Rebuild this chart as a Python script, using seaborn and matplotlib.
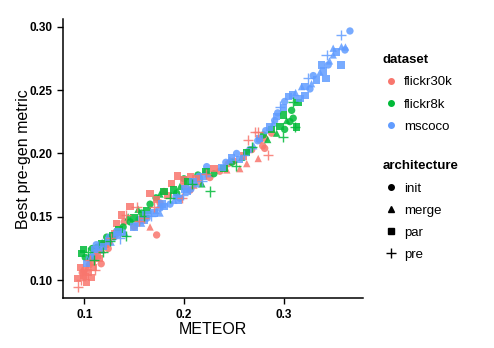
import numpy as np
import pandas as pd
import seaborn as sns
import matplotlib.pyplot as plt
from matplotlib.lines import Line2D

# flickr30k
f30k_meteor = [0.094, 0.093, 0.097, 0.099, 0.100, 0.101, 0.103, 0.104, 0.105, 0.107,
               0.106, 0.108, 0.110, 0.111, 0.113, 0.117, 0.118, 0.121, 0.124, 0.127,
               0.131, 0.1325, 0.1375, 0.142, 0.146, 0.1525, 0.150, 0.155, 0.166, 0.1726,
               0.166, 0.1726, 0.176, 0.170, 0.184, 0.1877, 0.1933, 0.1993, 0.2067, 0.206,
               0.198, 0.210, 0.215, 0.222, 0.226, 0.230, 0.236, 0.2445, 0.243, 0.256,
               0.2745, 0.263, 0.2846, 0.260, 0.268, 0.276, 0.2745, 0.2645, 0.281, 0.281,
               0.271, 0.288,
               0.098, 0.102, 0.109, 0.115, 0.096, 0.140, 0.160, 0.180, 0.200, 0.212,
               0.250, 0.279]
f30k_metric = [0.095, 0.1016, 0.100, 0.104, 0.108, 0.103, 0.110, 0.106, 0.112, 0.102,
               0.116, 0.114, 0.118, 0.108, 0.120, 0.113, 0.124, 0.128, 0.125, 0.133,
               0.137, 0.145, 0.1515, 0.1515, 0.158, 0.158, 0.142, 0.147, 0.142, 0.1357,
               0.1686, 0.1639, 0.161, 0.158, 0.167, 0.1765, 0.1822, 0.179, 0.1817, 0.171,
               0.165, 0.175, 0.178, 0.184, 0.181, 0.188, 0.186, 0.192, 0.187, 0.188,
               0.196, 0.192, 0.1988, 0.198, 0.203, 0.2106, 0.217, 0.2106, 0.212, 0.204,
               0.217, 0.216,
               0.106, 0.098, 0.110, 0.117, 0.110, 0.146, 0.149, 0.170, 0.174, 0.180,
               0.194, 0.206]
f30k_arch = ['pre', 'par', 'pre', 'par', 'init', 'par', 'merge', 'par', 'init', 'par',
             'pre', 'par', 'init', 'pre', 'par', 'init', 'merge', 'par', 'init', 'pre',
             'par', 'par', 'par', 'pre', 'par', 'pre', 'init', 'pre', 'merge', 'init',
             'par', 'par', 'init', 'pre', 'par', 'par', 'par', 'par', 'par', 'init',
             'pre', 'merge', 'init', 'pre', 'init', 'par', 'init', 'init', 'merge', 'merge',
             'merge', 'merge', 'pre', 'par', 'init', 'init', 'pre', 'pre', 'init', 'init',
             'pre', 'init',
             'init', 'par', 'par', 'par', 'par', 'init', 'pre', 'init', 'init', 'par',
             'init', 'init']

# flickr8k
f8k_meteor = [0.097, 0.099, 0.101, 0.104, 0.106, 0.110, 0.113, 0.117, 0.1225, 0.126,
              0.130, 0.135, 0.139, 0.142, 0.146, 0.150, 0.1575, 0.154, 0.160, 0.163,
              0.172, 0.176, 0.1893, 0.1927, 0.186, 0.196, 0.204, 0.214, 0.218, 0.226,
              0.222, 0.230, 0.240, 0.248, 0.252, 0.258, 0.263, 0.268, 0.2796, 0.284,
              0.293, 0.2996, 0.2963, 0.2996, 0.3063, 0.3113, 0.3096, 0.308, 0.3144, 0.3096,
              0.303, 0.313,
              0.108, 0.119, 0.128, 0.144, 0.166, 0.180, 0.200, 0.208, 0.288, 0.301]
f8k_metric = [0.121, 0.124, 0.118, 0.122, 0.119, 0.116, 0.126, 0.129, 0.134, 0.131,
              0.138, 0.140, 0.142, 0.135, 0.146, 0.149, 0.153, 0.156, 0.151, 0.155,
              0.165, 0.168, 0.1712, 0.1686, 0.165, 0.174, 0.178, 0.183, 0.176, 0.170,
              0.186, 0.184, 0.188, 0.193, 0.190, 0.197, 0.201, 0.205, 0.2146, 0.211,
              0.216, 0.213, 0.2211, 0.2303, 0.2251, 0.2211, 0.2278, 0.234, 0.240, 0.2408,
              0.226, 0.221,
              0.125, 0.122, 0.135, 0.150, 0.160, 0.170, 0.180, 0.176, 0.219, 0.219]
f8k_arch = ['par', 'par', 'init', 'pre', 'merge', 'pre', 'init', 'par', 'init', 'pre',
            'merge', 'par', 'init', 'pre', 'init', 'par', 'init', 'merge', 'pre', 'par',
            'init', 'merge', 'par', 'init', 'pre', 'merge', 'par', 'init', 'merge', 'pre',
            'par', 'init', 'par', 'init', 'pre', 'merge', 'par', 'pre', 'init', 'merge',
            'merge', 'pre', 'par', 'par', 'init', 'pre', 'init', 'init', 'par', 'pre',
            'merge', 'par',
            'init', 'pre', 'par', 'merge', 'init', 'par', 'init', 'pre', 'par', 'init']

# mscoco
coco_meteor = [0.102, 0.105, 0.108, 0.110, 0.1125, 0.114, 0.116, 0.119, 0.121, 0.124,
               0.127, 0.130, 0.133, 0.136, 0.138, 0.141, 0.150, 0.153, 0.1575, 0.160,
               0.163, 0.167, 0.170, 0.1759, 0.176, 0.180, 0.186, 0.190, 0.1943, 0.196,
               0.199, 0.203, 0.207, 0.2125, 0.2193, 0.2228, 0.218, 0.224, 0.238, 0.242,
               0.246, 0.2528, 0.256, 0.260, 0.266, 0.270, 0.276, 0.282, 0.2896, 0.293,
               0.294, 0.296, 0.301, 0.305, 0.3163, 0.3214, 0.318, 0.3214, 0.3264, 0.3247,
               0.333, 0.3297, 0.3364, 0.3424, 0.338, 0.3447, 0.3575, 0.343, 0.3497, 0.3497,
               0.358, 0.3615, 0.3575, 0.3665, 0.312, 0.300,
               0.107, 0.112, 0.118, 0.125, 0.134, 0.155, 0.162, 0.172, 0.178, 0.192,
               0.201, 0.209, 0.215, 0.221, 0.248, 0.262, 0.274, 0.286, 0.291, 0.309,
               0.328, 0.340, 0.346, 0.353, 0.362]
coco_metric = [0.113, 0.117, 0.121, 0.124, 0.1225, 0.127, 0.124, 0.1265, 0.129, 0.131,
               0.130, 0.134, 0.136, 0.133, 0.138, 0.137, 0.142, 0.145, 0.145, 0.147,
               0.149, 0.151, 0.153, 0.1568, 0.153, 0.158, 0.160, 0.163, 0.1633, 0.1647,
               0.167, 0.170, 0.172, 0.176, 0.1817, 0.1896, 0.178, 0.184, 0.189, 0.193,
               0.195, 0.200, 0.195, 0.199, 0.203, 0.206, 0.212, 0.218, 0.224, 0.229,
               0.232, 0.237, 0.241, 0.245, 0.2435, 0.2456, 0.2527, 0.2527, 0.2509, 0.2593,
               0.258, 0.2614, 0.264, 0.2593, 0.2698, 0.2698, 0.2698, 0.2777, 0.2777, 0.283,
               0.2843, 0.2816, 0.2934, 0.2966, 0.248, 0.236,
               0.118, 0.128, 0.130, 0.134, 0.138, 0.148, 0.152, 0.155, 0.160, 0.166,
               0.172, 0.178, 0.182, 0.186, 0.197, 0.201, 0.210, 0.221, 0.226, 0.246,
               0.255, 0.265, 0.273, 0.280, 0.284]
coco_arch = ['par', 'init', 'merge', 'par', 'init', 'pre', 'merge', 'par', 'init', 'par',
             'merge', 'init', 'par', 'pre', 'init', 'merge', 'par', 'init', 'merge', 'par',
             'init', 'pre', 'par', 'init', 'merge', 'par', 'init', 'merge', 'par', 'init',
             'pre', 'par', 'init', 'merge', 'par', 'init', 'pre', 'merge', 'par', 'init',
             'merge', 'init', 'par', 'pre', 'init', 'merge', 'par', 'init', 'merge', 'par',
             'init', 'pre', 'init', 'par', 'par', 'par', 'merge', 'par', 'init', 'pre',
             'par', 'init', 'merge', 'par', 'par', 'init', 'par', 'pre', 'merge', 'merge',
             'merge', 'init', 'pre', 'init', 'merge', 'par',
             'par', 'init', 'merge', 'init', 'par', 'init', 'par', 'merge', 'par', 'init',
             'par', 'par', 'init', 'merge', 'par', 'merge', 'init', 'par', 'init', 'par',
             'merge', 'par', 'merge', 'par', 'merge']

datasets = ['flickr30k', 'flickr8k', 'mscoco']
architectures = ['init', 'merge', 'par', 'pre']
colors = ['#F8766D', '#00BA38', '#619CFF']
markers = {'init': 'o', 'merge': '^', 'par': 's', 'pre': '+'}

df = pd.concat([
    pd.DataFrame({'METEOR': f30k_meteor, 'metric': f30k_metric,
                  'architecture': f30k_arch, 'dataset': 'flickr30k'}),
    pd.DataFrame({'METEOR': f8k_meteor, 'metric': f8k_metric,
                  'architecture': f8k_arch, 'dataset': 'flickr8k'}),
    pd.DataFrame({'METEOR': coco_meteor, 'metric': coco_metric,
                  'architecture': coco_arch, 'dataset': 'mscoco'}),
], ignore_index=True)

sns.set_style('ticks')
plt.rcParams['font.family'] = ['Liberation Sans', 'DejaVu Sans']
plt.rcParams['text.color'] = 'black'
plt.rcParams['axes.labelcolor'] = 'black'

fig = plt.figure(figsize=(4.94, 3.48), dpi=100)
ax = fig.add_axes([0.128, 0.143, 0.606, 0.8015])

palette = dict(zip(datasets, colors))
for arch in architectures:
    sub = df[df['architecture'] == arch]
    m = markers[arch]
    if m == '+':
        sns.scatterplot(data=sub, x='METEOR', y='metric', hue='dataset',
                        palette=palette, marker=m, s=55, linewidth=1.0,
                        alpha=0.85, legend=False, ax=ax)
    else:
        sns.scatterplot(data=sub, x='METEOR', y='metric', hue='dataset',
                        palette=palette, marker=m, s=28, linewidth=0,
                        alpha=0.85, legend=False, ax=ax)

ax.set_xlim(0.0789, 0.3792)
ax.set_ylim(0.0858, 0.3058)
ax.set_xticks([0.1, 0.2, 0.3])
ax.set_yticks([0.10, 0.15, 0.20, 0.25, 0.30])
ax.set_xticklabels(['0.1', '0.2', '0.3'])
ax.set_yticklabels(['0.10', '0.15', '0.20', '0.25', '0.30'])
ax.tick_params(labelsize=8.5, length=4, width=1, color='black', labelcolor='black')
for lab in ax.get_xticklabels() + ax.get_yticklabels():
    lab.set_fontweight('bold')
for side in ['left', 'bottom']:
    ax.spines[side].set_linewidth(1.1)
    ax.spines[side].set_color('black')
sns.despine(ax=ax)
ax.set_xlabel('METEOR', fontsize=11.5, labelpad=1, color='black')
ax.set_ylabel('Best pre-gen metric', fontsize=11.5, labelpad=-1, color='black')

# legends
h1 = [Line2D([], [], marker='o', color=c, linestyle='', markersize=4)
      for c in colors]
leg1 = fig.legend(h1, datasets, title='dataset', loc='upper left',
                  bbox_to_anchor=(0.751, 0.878), frameon=False, fontsize=9.5,
                  title_fontproperties={'weight': 'bold', 'size': 9.5},
                  handletextpad=0.4, labelspacing=0.75, alignment='left',
                  handlelength=1.2, labelcolor='black')
h2 = [Line2D([], [], marker=markers[a], color='black', linestyle='',
             markersize=4 if a != 'pre' else 7, markeredgewidth=1)
      for a in architectures]
leg2 = fig.legend(h2, architectures, title='architecture', loc='upper left',
                  bbox_to_anchor=(0.751, 0.573), frameon=False, fontsize=9.5,
                  title_fontproperties={'weight': 'bold', 'size': 9.5},
                  handletextpad=0.4, labelspacing=0.75, alignment='left',
                  handlelength=1.2, labelcolor='black')
for leg in (leg1, leg2):
    leg.get_title().set_color('black')

fig.savefig('out.png', dpi=100)
